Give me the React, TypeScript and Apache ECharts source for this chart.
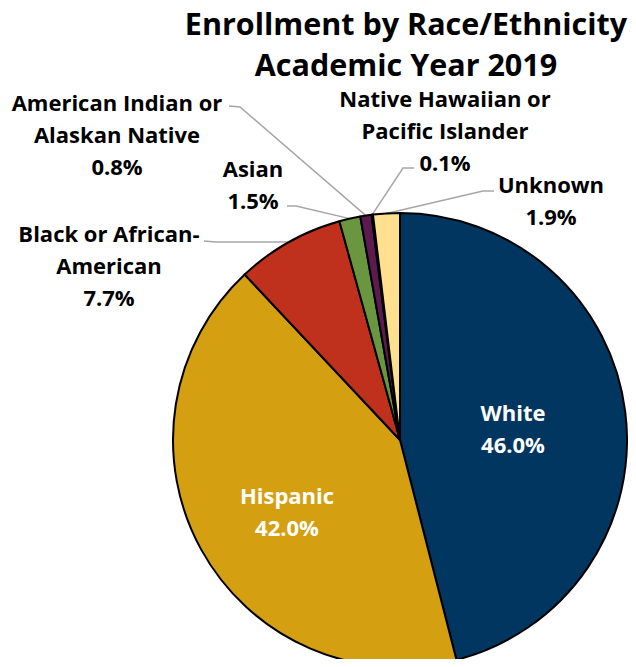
import React, { useEffect, useRef } from "react";
import * as echarts from "echarts";

const categories = [
  "White",
  "Hispanic",
  "Black or African-\nAmerican",
  "Asian",
  "American Indian or\nAlaskan Native",
  "Native Hawaiian or\nPacific Islander",
  "Unknown",
];
const shares = [46.0, 42.0, 7.7, 1.5, 0.8, 0.1, 1.9];
const colors = ["#003660", "#D4A011", "#BF311C", "#6A963F", "#5C1A4E", "#1F2F55", "#FFE08F"];
const titleLines = ["Enrollment by Race/Ethnicity", "Academic Year 2019"];

// label placement (layout only): center of text block, leader anchor & elbow
const labelPlace: Record<number, any> = {
  0: { x: 513, y: 428 },
  1: { x: 287, y: 511 },
  2: { x: 109, y: 265, anchor: [204, 241], elbow: [216, 242] },
  3: { x: 253, y: 184, anchor: [287, 206], elbow: [296, 206] },
  4: { x: 117, y: 134, anchor: [229, 106], elbow: [240, 107] },
  5: { x: 445, y: 130, anchor: [414, 168], elbow: [403, 168] },
  6: { x: 551, y: 200, anchor: [494, 191], elbow: [483, 191] },
};

export default function App() {
  const ref = useRef<HTMLDivElement>(null);
  useEffect(() => {
    if (!ref.current) return;
    const chart = echarts.init(ref.current, undefined, { renderer: "svg" });
    const font = "'Open Sans', Lato, sans-serif";
    chart.setOption({
      animation: false,
      title: {
        text: titleLines.join("\n"),
        left: 401,
        top: -3,
        textAlign: "center",
        textStyle: {
          fontFamily: font,
          fontWeight: "bold",
          fontSize: 30.5,
          lineHeight: 41,
          color: "#000",
        },
      },
      series: [
        {
          type: "pie",
          center: [400, 440],
          radius: 227,
          startAngle: 90,
          clockwise: true,
          avoidLabelOverlap: false,
          itemStyle: { borderColor: "#000", borderWidth: 2 },
          label: {
            show: true,
            position: "outside",
            fontFamily: font,
            fontWeight: "bold",
            fontSize: 22,
            lineHeight: 32,
            color: "#000",
            align: "center",
            formatter: (p: any) => `${p.name}\n${Number(p.value).toFixed(1)}%`,
          },
          labelLine: {
            show: true,
            lineStyle: { color: "#A6A6A6", width: 1.5 },
          },
          labelLayout: (params: any) => {
            const cfg = labelPlace[params.dataIndex];
            if (!cfg) return {};
            const out: any = { x: cfg.x, y: cfg.y, align: "center", verticalAlign: "middle" };
            if (cfg.anchor && params.labelLinePoints) {
              const p0 = params.labelLinePoints[0];
              out.labelLinePoints = [p0, cfg.elbow, cfg.anchor];
            }
            return out;
          },
          data: categories.map((name, i) => {
            const inside = i < 2;
            return {
              name,
              value: shares[i],
              itemStyle: { color: colors[i] },
              label: inside
                ? { position: "inside", color: "#fff", fontSize: 22 }
                : undefined,
              labelLine: inside ? { show: false } : undefined,
            };
          }),
        },
      ],
    });
    return () => chart.dispose();
  }, []);
  return <div ref={ref} style={{ width: 636, height: 667, margin: -8 }} />;
}
